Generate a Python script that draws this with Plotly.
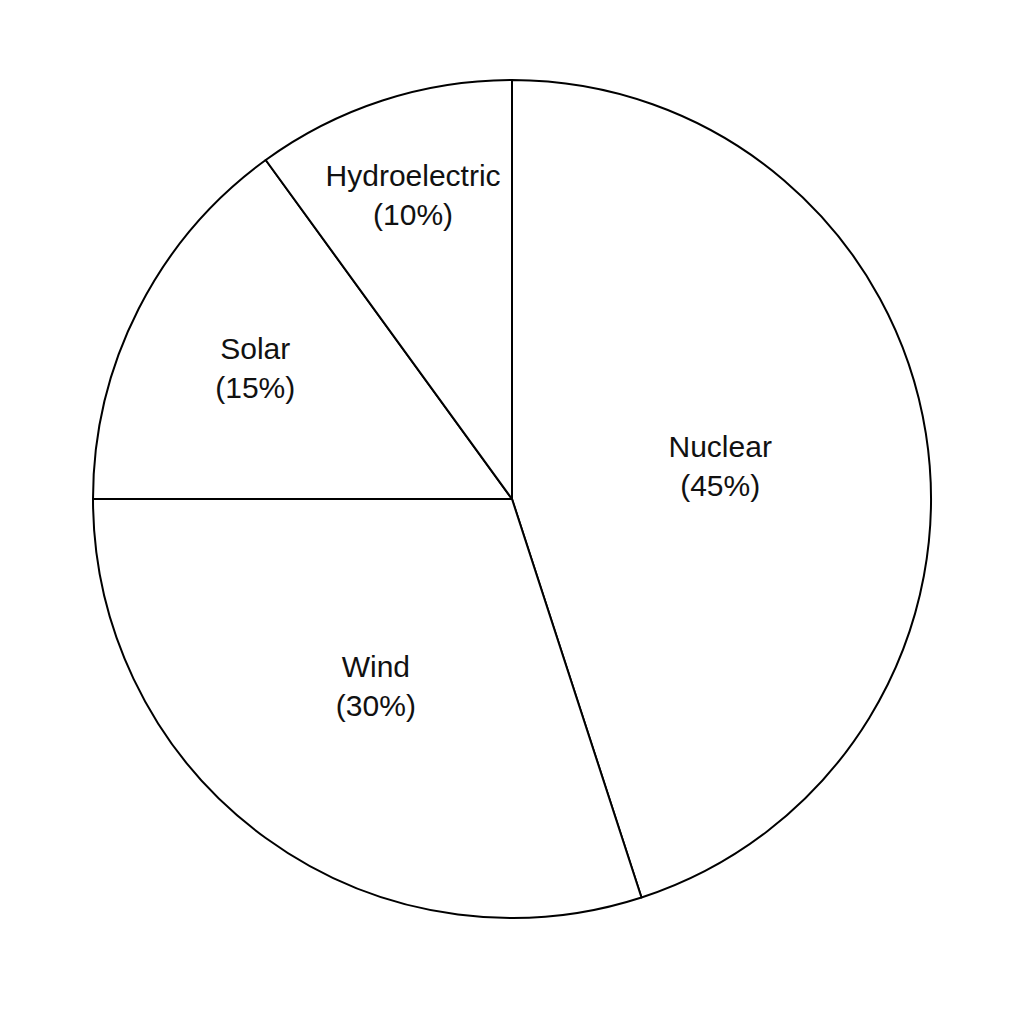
import plotly.graph_objects as go

labels = ["Nuclear", "Wind", "Solar", "Hydroelectric"]
shares = [45, 30, 15, 10]

fig = go.Figure(go.Pie(
    labels=labels,
    values=shares,
    sort=False,
    direction="clockwise",
    rotation=0,
    marker=dict(colors=["white"] * len(labels), line=dict(color="black", width=2)),
    texttemplate="%{label}<br>(%{percent})",
    textposition="inside",
    insidetextorientation="horizontal",
    textfont=dict(family="Liberation Sans, Arial, sans-serif", size=30, color="#111111"),
    hoverinfo="skip",
    showlegend=False,
))

# page body adds an 8px margin, so shift the pie up/left by that much
fig.update_layout(
    width=1024,
    height=1024,
    margin=dict(l=85, r=101, t=70, b=112),
    paper_bgcolor="white",
    plot_bgcolor="white",
    uniformtext=dict(minsize=30, mode="show"),
)

fig.write_html("out.html")
